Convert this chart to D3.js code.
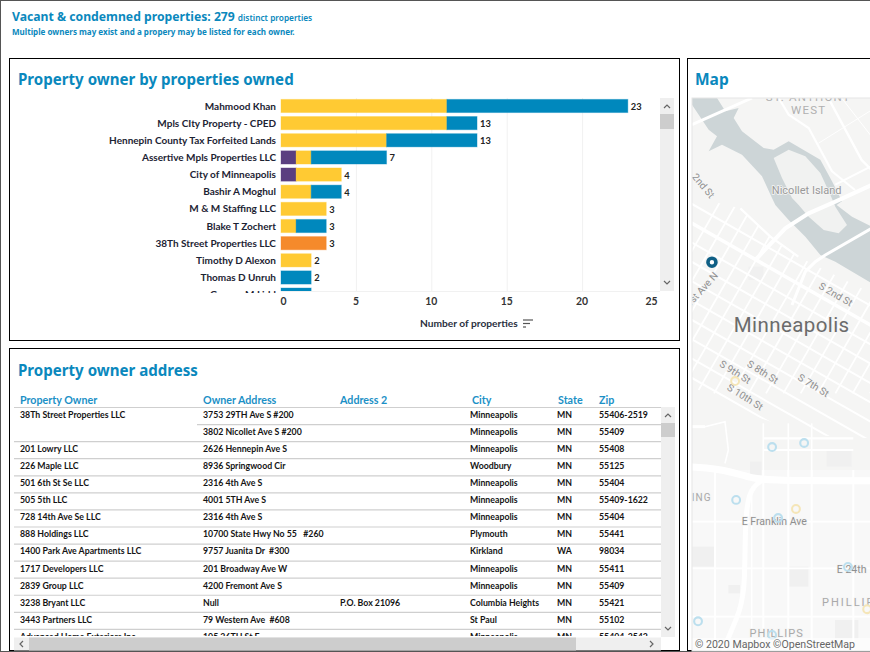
<!DOCTYPE html>
<html>
<head>
<meta charset="utf-8">
<script src="https://cdnjs.cloudflare.com/ajax/libs/d3/7.8.5/d3.min.js"></script>
<style>
	html, body { margin: 0; padding: 0; background: #fff; overflow: hidden; }
	svg { display: block; }
	text { font-family: Lato, sans-serif; }
	.heading { font-family: "Noto Sans", sans-serif; font-weight: 700; fill: #0a88bd; }
	.map-text { font-family: Roboto, sans-serif; }
</style>
</head>
<body>
<svg id="page" width="870" height="652"></svg>
<script>
// bar chart values
var categories = ["Mahmood Khan", "Mpls CIty Property - CPED", "Hennepin County Tax Forfeited Lands", "Assertive Mpls Properties LLC", "City of Minneapolis", "Bashir A Moghul", "M & M Staffing LLC", "Blake T Zochert", "38Th Street Properties LLC", "Timothy D Alexon", "Thomas D Unruh", "George M Lidd"];
var purpleValues = [0, 0, 0, 1, 1, 0, 0, 0, 0, 0, 0, 0];
var yellowValues = [11, 11, 7, 1, 3, 2, 3, 1, 0, 2, 0, 0];
var orangeValues = [0, 0, 0, 0, 0, 0, 0, 0, 3, 0, 0, 0];
var blueValues = [12, 2, 6, 5, 0, 2, 0, 2, 0, 0, 2, 2];
var xTicks = [0, 5, 10, 15, 20, 25];

// table values
var tableHeaders = ["Property Owner", "Owner Address", "Address 2", "City", "State", "Zip"];
var owners = ["38Th Street Properties LLC", "", "201 Lowry LLC", "226 Maple LLC", "501 6th St Se LLC", "505 5th LLC", "728 14th Ave Se LLC", "888 Holdings LLC", "1400 Park Ave Apartments LLC", "1717 Developers LLC", "2839 Group LLC", "3238 Bryant LLC", "3443 Partners LLC", "Advanced Home Exteriors Inc"];
var addresses = ["3753 29TH Ave S #200", "3802 Nicollet Ave S #200", "2626 Hennepin Ave S", "8936 Springwood Cir", "2316 4th Ave S", "4001 5TH Ave S", "2316 4th Ave S", "10700 State Hwy No 55   #260", "9757 Juanita Dr  #300", "201 Broadway Ave W", "4200 Fremont Ave S", "Null", "79 Western Ave  #608", "105 26TH St E"];
var addresses2 = ["", "", "", "", "", "", "", "", "", "", "", "P.O. Box 21096", "", ""];
var cities = ["Minneapolis", "Minneapolis", "Minneapolis", "Woodbury", "Minneapolis", "Minneapolis", "Minneapolis", "Plymouth", "Kirkland", "Minneapolis", "Minneapolis", "Columbia Heights", "St Paul", "Minneapolis"];
var states = ["MN", "MN", "MN", "MN", "MN", "MN", "MN", "MN", "WA", "MN", "MN", "MN", "MN", "MN"];
var zips = ["55406-2519", "55409", "55408", "55125", "55404", "55409-1622", "55404", "55441", "98034", "55411", "55409", "55421", "55102", "55404-2542"];

// map points
var pointLon = [-93.2675, -93.2585, -93.2776, -93.2658, -93.2462, -93.2883, -93.2675, -93.2779, -93.2608, -93.2408];
var pointLat = [44.9257, 44.9265, 44.9152, 44.9116, 44.9019, 44.8911, 44.8884, 44.9388, 44.9134, 44.8935];
var pointTone = ["blue", "blue", "blue", "blue", "blue", "blue", "blue", "yellow", "yellow", "yellow"];
var selectedLon = [-93.2844];
var selectedLat = [44.9624];

var colors = { purple: "#5b3f80", yellow: "#ffca33", orange: "#f58a2b", blue: "#0088bd" };
var svg = d3.select("#page");
var defs = svg.append("defs");

var addClip = function(id, x, y, w, h) {
	defs.append("clipPath").attr("id", id).append("rect")
		.attr("x", x).attr("y", y).attr("width", w).attr("height", h);
};

var panel = function(x, y, w, h) {
	svg.append("rect")
		.attr("x", x).attr("y", y).attr("width", w).attr("height", h)
		.attr("fill", "#fff").attr("stroke", "#000").attr("stroke-width", 1);
};

var heading = function(x, y, size, label) {
	return svg.append("text")
		.attr("class", "heading")
		.attr("x", x).attr("y", y)
		.attr("font-size", size)
		.text(label);
};

var scrollArrow = function(g, points) {
	g.append("path")
		.attr("d", d3.line()(points))
		.attr("fill", "none").attr("stroke", "#666").attr("stroke-width", 1.2);
};

// vertical scrollbar, used by the chart and by the table
var vScroll = function(x, y0, y1, thumbY, thumbH) {
	var g = svg.append("g");
	g.append("rect").attr("x", x).attr("y", y0).attr("width", 14).attr("height", y1 - y0).attr("fill", "#efefef");
	g.append("rect").attr("x", x).attr("y", thumbY).attr("width", 14).attr("height", thumbH).attr("fill", "#cdcdcd");
	scrollArrow(g, [[x + 4, y0 + 10], [x + 7, y0 + 7], [x + 10, y0 + 10]]);
	scrollArrow(g, [[x + 4, y1 - 10], [x + 7, y1 - 7], [x + 10, y1 - 10]]);
};

svg.append("rect").attr("x", 0.5).attr("y", 0.5).attr("width", 880).attr("height", 651)
	.attr("fill", "#fff").attr("stroke", "#555");

// page header
var pageTitle = heading(12, 21, 12.2, "Vacant & condemned properties: 279");
pageTitle.append("tspan").attr("dx", 3).attr("font-size", 8.3).attr("font-weight", 600).text("distinct properties");
heading(12, 35, 8.05, "Multiple owners may exist and a propery may be listed for each owner.");

panel(9.5, 58.5, 670, 282);
panel(9.5, 348.5, 670, 302);
panel(687.5, 58.5, 200, 592);
heading(18, 85, 15.1, "Property owner by properties owned");
heading(18, 376, 15.1, "Property owner address");
heading(695, 85, 15.5, "Map");

// bar chart
var drawBars = function() {
	var x = d3.scaleLinear().domain([0, 25]).range([281, 658]);
	var y = d3.scaleBand().domain(categories).range([97.4, 303.2]).paddingInner(0.23).paddingOuter(0.115);
	var rows = categories.map(function(name, i) {
		return { name: name, purple: purpleValues[i], yellow: yellowValues[i], orange: orangeValues[i], blue: blueValues[i] };
	});
	var stack = d3.stack().keys(["purple", "yellow", "orange", "blue"])(rows);

	addClip("plot-clip", 20, 98, 640, 193);
	addClip("label-clip", 20, 98, 260, 195);

	svg.append("g").selectAll("line")
		.data(xTicks.slice(1, 5))
		.enter().append("line")
		.attr("x1", x).attr("x2", x)
		.attr("y1", 98).attr("y2", 291)
		.attr("stroke", "#f1f1f1");
	svg.append("line").attr("x1", 281).attr("x2", 660).attr("y1", 291.5).attr("y2", 291.5).attr("stroke", "#f1f1f1");

	var plot = svg.append("g").attr("clip-path", "url(#plot-clip)");

	plot.selectAll(".series")
		.data(stack)
		.enter().append("g")
		.attr("class", "series")
		.attr("fill", function(s) { return colors[s.key]; })
		.attr("stroke", function(s) { return colors[s.key]; })
		.selectAll("rect")
		.data(function(s) { return s.filter(function(d) { return d[1] > d[0]; }); })
		.enter().append("rect")
		.attr("x", function(d) { return x(d[0]); })
		.attr("width", function(d) { return x(d[1]) - x(d[0]); })
		.attr("y", function(d) { return y(d.data.name); })
		.attr("height", y.bandwidth())
		.attr("stroke-opacity", 0.35);

	svg.append("g").attr("clip-path", "url(#label-clip)")
		.selectAll(".cat")
		.data(categories)
		.enter().append("text")
		.attr("class", "cat")
		.attr("x", 276)
		.attr("y", function(d) { return y(d) + y.bandwidth() / 2 + 3.6; })
		.attr("text-anchor", "end")
		.attr("font-size", 10)
		.attr("font-weight", 700)
		.attr("fill", "#1c2333")
		.text(function(d) { return d; });

	plot.selectAll(".total")
		.data(rows.slice(0, 11))
		.enter().append("text")
		.attr("class", "total")
		.attr("x", function(d) { return x(d.purple + d.yellow + d.orange + d.blue) + 3; })
		.attr("y", function(d) { return y(d.name) + y.bandwidth() / 2 + 4; })
		.attr("font-size", 9.3)
		.attr("font-weight", 700)
		.attr("fill", "#222")
		.text(function(d) { return d.purple + d.yellow + d.orange + d.blue; });

	var axis = svg.append("g")
		.attr("transform", "translate(0,291)")
		.call(d3.axisBottom(x).tickValues(xTicks).tickSize(0).tickPadding(7));
	axis.select(".domain").remove();
	axis.selectAll("text")
		.attr("font-size", 10.4)
		.attr("font-weight", 700)
		.attr("fill", "#333")
		.attr("dx", function(d) { return d === 0 ? 2 : d === 25 ? -7 : -1; });

	svg.append("text")
		.attr("x", 420).attr("y", 327)
		.attr("font-size", 10.2).attr("font-weight", 700).attr("fill", "#2a3040")
		.text("Number of properties");
	[[523, 533, 320], [523, 530, 323.5], [523, 526, 327]].forEach(function(s) {
		svg.append("line").attr("x1", s[0]).attr("x2", s[1]).attr("y1", s[2]).attr("y2", s[2])
			.attr("stroke", "#555").attr("stroke-width", 1.2);
	});

	vScroll(660, 98, 291, 114, 15);
};

// address table
var drawTable = function() {
	var columns = [owners, addresses, addresses2, cities, states, zips];
	var colX = d3.scaleOrdinal().domain(d3.range(6)).range([20, 203, 340, 470, 557, 599]);
	var headX = d3.scaleOrdinal().domain(d3.range(6)).range([20, 203, 340, 472, 558, 599]);
	var rowY = d3.scaleLinear().domain([0, 1]).range([407.5, 424.57]);

	addClip("table-clip", 14, 390, 647, 246);
	var g = svg.append("g").attr("clip-path", "url(#table-clip)");

	g.selectAll(".head")
		.data(tableHeaders)
		.enter().append("text")
		.attr("class", "head")
		.attr("x", function(d, i) { return headX(i); })
		.attr("y", 403.5)
		.attr("font-size", 10.7)
		.attr("font-weight", 700)
		.attr("fill", "#1b90c6")
		.text(function(d) { return d; });

	g.selectAll(".rule")
		.data(d3.range(owners.length + 1))
		.enter().append("line")
		.attr("class", "rule")
		.attr("x1", function(d) { return d === 1 ? 197 : 14; })
		.attr("x2", 661)
		.attr("y1", function(d) { return rowY(d); })
		.attr("y2", function(d) { return rowY(d); })
		.attr("stroke", "#cfcfcf")
		.attr("stroke-width", 1.2);

	columns.forEach(function(values, c) {
		g.append("g").selectAll("text")
			.data(values)
			.enter().append("text")
			.attr("x", colX(c))
			.attr("y", function(d, i) { return rowY(i) + 10.4; })
			.attr("xml:space", "preserve")
			.attr("font-size", 8.75)
			.attr("font-weight", 700)
			.attr("fill", "#141414")
			.text(function(d) { return d; });
	});

	vScroll(661, 407, 637, 423, 14);

	// horizontal scrollbar
	svg.append("rect").attr("x", 14).attr("y", 637.5).attr("width", 647).attr("height", 13).attr("fill", "#efefef");
	svg.append("rect").attr("x", 29).attr("y", 637.5).attr("width", 547).attr("height", 13).attr("fill", "#cdcdcd");
	scrollArrow(svg, [[23, 641], [20, 644], [23, 647]]);
	scrollArrow(svg, [[650, 641], [653, 644], [650, 647]]);
};

// background map: geometry is kept in base units, three per screen pixel
var drawMap = function() {
	var bx = d3.scaleLinear().domain([0, 555]).range([685, 870]);
	var by = d3.scaleLinear().domain([0, 900]).range([60, 360]);
	var lonX = d3.scaleLinear().domain([-93.29, -93.24]).range([692, 870]);
	var latY = d3.scaleLinear().domain([44.995, 44.885]).range([98, 652]);
	var line = d3.line().x(function(d) { return bx(d[0]); }).y(function(d) { return by(d[1]); });
	var smooth = d3.line().x(function(d) { return bx(d[0]); }).y(function(d) { return by(d[1]); }).curve(d3.curveBasis);

	addClip("map-clip", 692, 98, 178, 553);
	var downtown = [[0, 405], [166, 445], [256, 530], [340, 590], [400, 620], [560, 700], [560, 1135], [380, 1125], [180, 1060], [0, 970]];
	defs.append("clipPath").attr("id", "downtown-clip").append("path").attr("d", line(downtown) + "Z");

	var g = svg.append("g").attr("clip-path", "url(#map-clip)");
	g.append("rect").attr("x", 692).attr("y", 98).attr("width", 178).attr("height", 553).attr("fill", "#f5f5f4");
	g.append("rect").attr("x", 692).attr("y", 470).attr("width", 178).attr("height", 181).attr("fill", "#f8f8f8");

	// river and island
	var river = [[0, 114], [96, 114], [121, 154], [161, 144], [146, 174], [171, 214], [236, 264], [266, 269], [311, 244], [406, 299], [441, 364], [471, 424], [455, 435], [501, 470], [560, 500], [560, 670], [451, 605], [406, 585], [361, 530], [311, 480], [271, 435], [261, 414], [231, 349], [171, 284], [111, 254], [71, 274], [96, 229], [71, 209], [21, 134]];
	var island = [[266, 294], [311, 269], [361, 289], [406, 339], [436, 404], [451, 440], [486, 495], [461, 520], [416, 510], [371, 470], [341, 435], [321, 414], [291, 354]];
	g.append("path").attr("d", line(river) + "Z").attr("fill", "#cdd5d7");
	g.append("path").attr("d", line(island) + "Z").attr("fill", "#f1f2f1");

	// pale blocks
	[[425, 1170, 75, 50], [310, 1520, 60, 60], [22, 1460, 65, 60], [195, 1205, 35, 40], [130, 1575, 35, 25], [450, 1680, 70, 55], [190, 620, 45, 40]].forEach(function(b) {
		g.append("rect").attr("x", bx(b[0])).attr("y", by(b[1])).attr("width", b[2] / 3).attr("height", b[3] / 3).attr("fill", "#f0f0f0");
	});

	var road = function(points, width, curve) {
		g.append("path").attr("d", (curve ? smooth : line)(points))
			.attr("fill", "none").attr("stroke", "#fff").attr("stroke-width", width);
	};

	// downtown grid
	var grid = g.append("g").attr("clip-path", "url(#downtown-clip)");
	var diagonalStarts = [420, 478, 536, 594, 652, 710, 768, 826, 884, 942, 1000, 1058];
	var crossStarts = d3.range(120, 1300, 52);
	diagonalStarts.forEach(function(s) {
		grid.append("path").attr("d", line([[0, s], [600, s + 342]]))
			.attr("fill", "none").attr("stroke", "#fff").attr("stroke-width", s === 478 ? 3.5 : 2);
	});
	crossStarts.forEach(function(s) {
		grid.append("path").attr("d", line([[s, 400], [s - 345, 1000]]))
			.attr("fill", "none").attr("stroke", "#fff").attr("stroke-width", 1.8);
	});

	// bridges and the east bank
	road([[21, 194], [201, 114]], 3);
	road([[211, 600], [301, 505], [371, 460], [451, 425], [560, 375]], 4);
	road([[321, 735], [361, 635], [391, 605], [421, 585], [560, 505]], 3);
	road([[166, 445], [256, 530], [340, 590]], 2.2);
	road([[281, 114], [311, 164], [371, 204], [441, 334], [510, 390]], 2.2);
	road([[430, 114], [530, 300], [560, 330]], 2.4);
	road([[451, 374], [560, 318]], 2);
	road([[470, 114], [560, 230]], 1);
	road([[400, 250], [560, 150]], 1);

	// south of downtown
	[1385, 1525, 1670].forEach(function(s) { road([[0, s], [560, s]], 1.8); });
	[90, 235, 310, 380, 505].forEach(function(s) { road([[s, 1230], [s, 1830]], 2); });
	[1135, 1170].forEach(function(s) { road([[235, s], [505, s]], 2.2); });
	[235, 310, 380].forEach(function(s) { road([[s, 1090], [s, 1250]], 1.6); });
	road([[0, 1220], [100, 1225], [190, 1250], [230, 1262], [560, 1262]], 7, true);
	road([[230, 1262], [190, 1290], [180, 1400], [180, 1560], [170, 1650], [110, 1770], [110, 1830]], 5, true);
	road([[200, 1280], [200, 1770]], 1.5);
	road([[60, 1100], [120, 1085], [130, 1170], [120, 1210]], 1.6);
	road([[0, 1100], [60, 1100]], 3);

	// street labels
	var mapLabel = function(bxPos, byPos, size, fill, angle, label, spacing) {
		g.append("text")
			.attr("class", "map-text")
			.attr("transform", "translate(" + bx(bxPos) + "," + by(byPos) + ") rotate(" + angle + ")")
			.attr("text-anchor", "middle")
			.attr("font-size", size)
			.attr("letter-spacing", spacing || 0)
			.attr("fill", fill)
			.attr("stroke", "#f5f5f5").attr("stroke-width", 1.5).attr("paint-order", "stroke")
			.text(label);
	};
	mapLabel(370, 122, 11.5, "#b0b0b0", 0, "ST. ANTHONY", 1.2);
	mapLabel(371, 161, 11.5, "#b0b0b0", 0, "WEST", 1.2);
	mapLabel(365, 402, 11, "#999", 0, "Nicollet Island");
	mapLabel(47, 384, 10, "#8f8f8f", 50, "2nd St");
	mapLabel(58, 695, 10, "#8f8f8f", -48, "1st Ave N");
	mapLabel(447, 712, 10, "#8f8f8f", 30, "S 2nd St");
	mapLabel(320, 817, 20.5, "#6b6b6b", 0, "Minneapolis", 0.4);
	mapLabel(145, 945, 10, "#8f8f8f", 32, "S 9th St");
	mapLabel(228, 945, 10, "#8f8f8f", 32, "S 8th St");
	mapLabel(380, 985, 10, "#8f8f8f", 32, "S 7th St");
	mapLabel(175, 1020, 10, "#8f8f8f", 32, "S 10th St");
	mapLabel(50, 1322, 10, "#a9a9a9", 0, "ING", 1);
	mapLabel(268, 1395, 10.5, "#8f8f8f", 0, "E Franklin Ave");
	mapLabel(500, 1540, 10.5, "#8f8f8f", 0, "E 24th");
	mapLabel(504, 1638, 11, "#a9a9a9", 0, "PHILLIPS", 2);
	mapLabel(275, 1732, 11, "#a9a9a9", 0, "PHILLIPS", 1);

	// faded points and the selected one
	g.append("g").selectAll("circle")
		.data(pointLon)
		.enter().append("circle")
		.attr("cx", function(d) { return lonX(d); })
		.attr("cy", function(d, i) { return latY(pointLat[i]); })
		.attr("r", 3.9)
		.attr("fill", "none")
		.attr("stroke", function(d, i) { return pointTone[i] === "blue" ? "#bcdfee" : "#f5e6b8"; })
		.attr("stroke-width", 2.1);
	g.append("g").selectAll("circle")
		.data(selectedLon)
		.enter().append("circle")
		.attr("cx", function(d) { return lonX(d); })
		.attr("cy", function(d, i) { return latY(selectedLat[i]); })
		.attr("r", 4)
		.attr("fill", "#fff")
		.attr("stroke", "#0f5f85")
		.attr("stroke-width", 3.6);

	g.append("rect").attr("x", 692).attr("y", 638).attr("width", 178).attr("height", 13).attr("fill", "#fff").attr("fill-opacity", 0.6);
	g.append("text")
		.attr("class", "map-text")
		.attr("x", 695).attr("y", 648)
		.attr("font-size", 10.6)
		.attr("fill", "#666")
		.text("© 2020 Mapbox ©OpenStreetMap");
	svg.append("rect").attr("x", 692).attr("y", 98).attr("width", 180).attr("height", 553).attr("fill", "none").attr("stroke", "#e6e6e6");
};

drawBars();
drawTable();
drawMap();
</script>
</body>
</html>
